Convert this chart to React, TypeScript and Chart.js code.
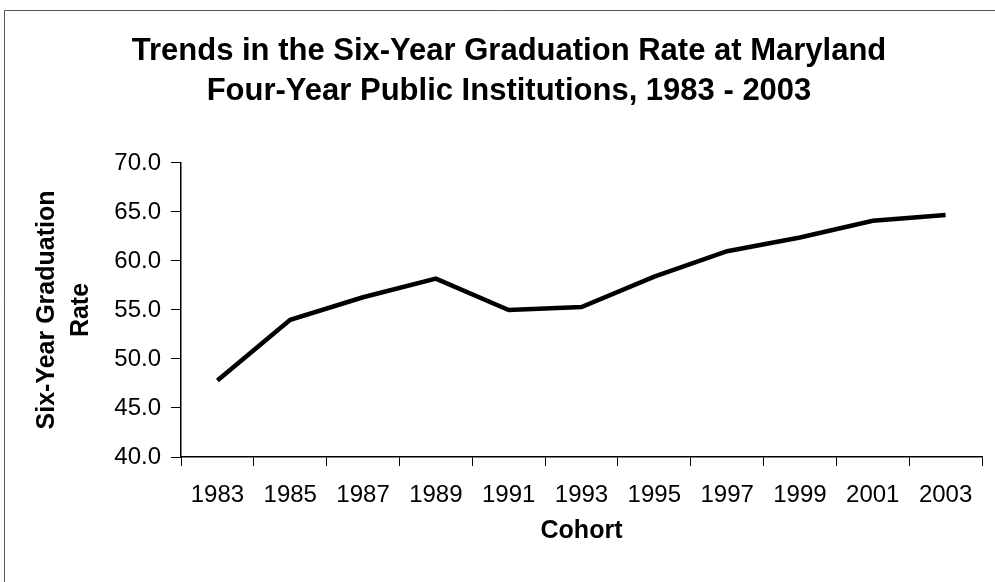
import React, { useEffect, useRef } from "react";
import { Chart, registerables } from "chart.js";

Chart.register(...registerables);

const cohorts = ["1983", "1985", "1987", "1989", "1991", "1993", "1995", "1997", "1999", "2001", "2003"];
const gradRate = [47.8, 54.0, 56.3, 58.2, 55.0, 55.3, 58.4, 61.0, 62.4, 64.1, 64.7];
const titleLines = ["Trends in the Six-Year Graduation Rate at Maryland", "Four-Year Public Institutions, 1983 - 2003"];
const yTitleLines = ["Six-Year Graduation", "Rate"];
const xTitle = "Cohort";

const FONT = "'Liberation Sans', Arial, sans-serif";

const framePlugin = {
  id: "frame",
  beforeDraw(chart: any) {
    const ctx = chart.ctx;
    ctx.save();
    ctx.fillStyle = "#ffffff";
    ctx.fillRect(0, 0, chart.width, chart.height);
    ctx.strokeStyle = "#555555";
    ctx.lineWidth = 1;
    ctx.beginPath();
    ctx.moveTo(4.5, chart.height);
    ctx.lineTo(4.5, 10.5);
    ctx.lineTo(chart.width, 10.5);
    ctx.stroke();
    ctx.restore();
  },
};

export default function App() {
  const ref = useRef<HTMLCanvasElement | null>(null);
  useEffect(() => {
    document.body.style.margin = "0";
    if (!ref.current) return;
    const chart = new Chart(ref.current, {
      type: "line",
      data: {
        labels: cohorts,
        datasets: [
          {
            data: gradRate,
            borderColor: "#000000",
            borderWidth: 4.5,
            pointRadius: 0,
            tension: 0,
            fill: false,
          },
        ],
      },
      options: {
        animation: false,
        responsive: false,
        devicePixelRatio: 1,
        layout: { padding: { left: 36, right: 13, top: 12, bottom: 0 } },
        plugins: {
          legend: { display: false },
          tooltip: { enabled: false },
          title: {
            display: true,
            text: titleLines,
            color: "#000000",
            font: { family: FONT, size: 31, weight: "bold", lineHeight: 1.274 },
            padding: { top: 20, bottom: 52 },
          },
        },
        scales: {
          x: {
            type: "category",
            offset: true,
            afterFit: (s: any) => {
              s.height = 125;
            },
            grid: {
              offset: true,
              drawOnChartArea: false,
              drawTicks: true,
              tickLength: 9,
              color: "#000000",
            },
            border: { color: "#000000", width: 1.5 },
            ticks: {
              color: "#000000",
              font: { family: FONT, size: 24 },
              padding: 15,
              maxRotation: 0,
              autoSkip: false,
            },
            title: {
              display: true,
              text: xTitle,
              color: "#000000",
              font: { family: FONT, size: 25, weight: "bold" },
              padding: { top: 0, bottom: 36 },
            },
          },
          y: {
            min: 40,
            max: 70,
            afterFit: (s: any) => {
              s.width = 145;
            },
            grid: {
              drawOnChartArea: false,
              drawTicks: true,
              tickLength: 10,
              color: "#000000",
            },
            border: { color: "#000000", width: 1.5 },
            ticks: {
              stepSize: 5,
              color: "#000000",
              font: { family: FONT, size: 24 },
              padding: 10,
              callback: (v: any) => Number(v).toFixed(1),
            },
            title: {
              display: true,
              text: yTitleLines,
              color: "#000000",
              font: { family: FONT, size: 25, weight: "bold", lineHeight: 1.36 },
              padding: { top: -6, bottom: 0 },
            },
          },
        },
      },
      plugins: [framePlugin],
    });
    return () => chart.destroy();
  }, []);
  return (
    <div style={{ position: "absolute", left: 0, top: 0, width: 995, height: 582 }}>
      <canvas ref={ref} width={995} height={582} style={{ display: "block" }} />
    </div>
  );
}
